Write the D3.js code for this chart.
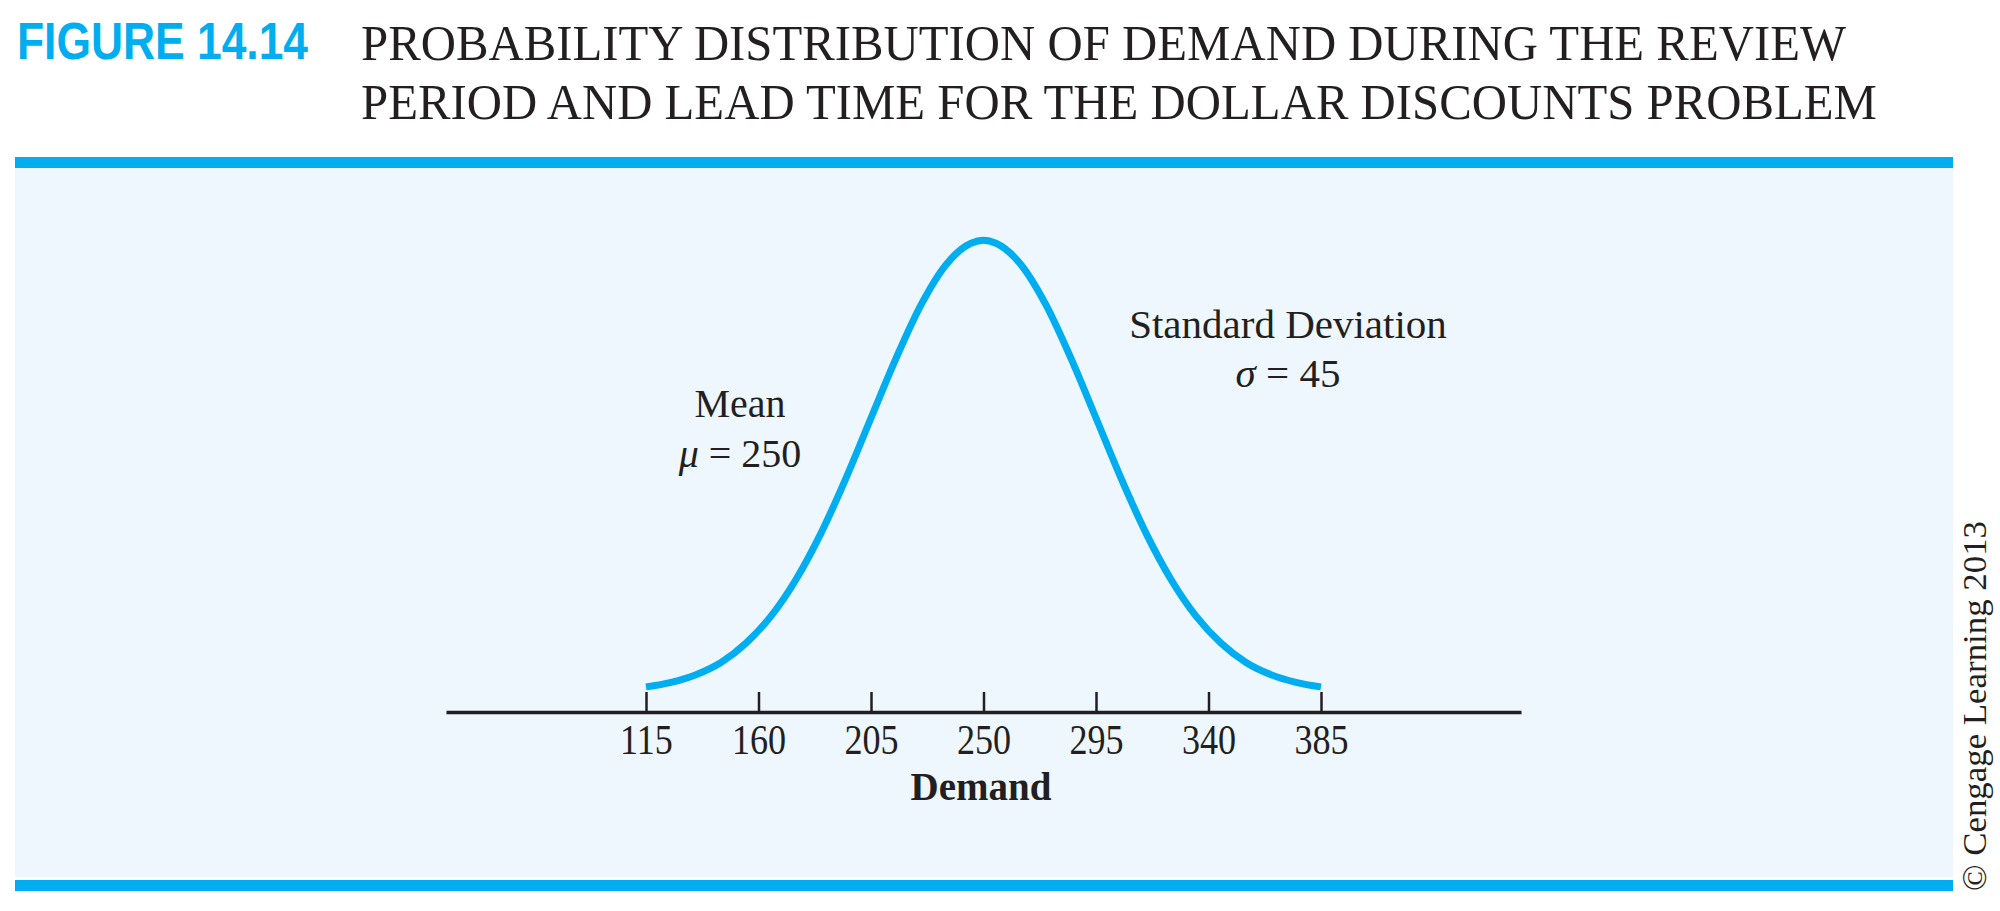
<!DOCTYPE html>
<html>
<head>
<meta charset="utf-8">
<script src="https://cdn.jsdelivr.net/npm/d3@7"></script>
<style>
  html, body { margin: 0; padding: 0; background: #ffffff; }
  svg { display: block; }
</style>
</head>
<body>
<script>
// ---------- data ----------
const demand = [115,125,135,145,155,165,175,185,195,205,215,225,235,245,250,255,265,275,285,295,305,315,325,335,345,355,365,375,385];
// probability density (x 0.001)
const density = [0.10,0.19,0.34,0.58,0.96,1.49,2.21,3.12,4.20,5.38,6.55,7.60,8.39,8.81,8.87,8.81,8.39,7.60,6.55,5.38,4.20,3.12,2.21,1.49,0.96,0.58,0.34,0.19,0.10];
const tickValues = [115,160,205,250,295,340,385];
const figureLabel = "FIGURE 14.14";
const titleLines = ["PROBABILITY DISTRIBUTION OF DEMAND DURING THE REVIEW",
                    "PERIOD AND LEAD TIME FOR THE DOLLAR DISCOUNTS PROBLEM"];
const meanLines = ["Mean", "250"];
const sdLines = ["Standard Deviation", "45"];
const xTitle = "Demand";
const credit = "\u00A9 Cengage Learning 2013";

// ---------- layout ----------
const W = 2000, H = 911;
const blue = "#00AEEF", ink = "#231F20", panel = "#EEF7FD";
const serif = "'Liberation Serif','Times New Roman',serif";
const sans = "'Liberation Sans',Arial,sans-serif";

const svg = d3.select("body").append("svg").attr("width", W).attr("height", H);

// frame
svg.append("rect").attr("x",15).attr("y",157).attr("width",1938).attr("height",11).attr("fill",blue);
svg.append("rect").attr("x",15).attr("y",168).attr("width",1938).attr("height",709).attr("fill",panel);
svg.append("rect").attr("x",15).attr("y",880).attr("width",1938).attr("height",11).attr("fill",blue);

// title
svg.append("text").attr("x",17).attr("y",59)
  .attr("font-family",sans).attr("font-weight","bold").attr("font-size",51)
  .attr("fill",blue).attr("textLength",291).attr("lengthAdjust","spacingAndGlyphs")
  .text(figureLabel);
const titleLen = [1485, 1516];
titleLines.forEach((t,i)=>{
  svg.append("text").attr("x",361).attr("y",60+59*i)
    .attr("font-family",serif).attr("font-size",51).attr("fill",ink)
    .attr("textLength",titleLen[i]).attr("lengthAdjust","spacingAndGlyphs")
    .text(t);
});

// scales
const x = d3.scaleLinear().domain([35,465]).range([446,1521]);
const y = d3.scaleLinear().domain([0,8.865]).range([692,240.5]);

// curve
const pts = demand.map((d,i)=>[d, density[i]]);
svg.append("path").datum(pts)
  .attr("fill","none").attr("stroke",blue).attr("stroke-width",7)
  .attr("d", d3.line().x(d=>x(d[0])).y(d=>y(d[1])).curve(d3.curveMonotoneX));

// axis
const gx = svg.append("g").attr("transform","translate(0,712)")
  .call(d3.axisBottom(x).tickValues(tickValues).tickSizeInner(-20).tickSizeOuter(0).tickPadding(12));
gx.select(".domain").attr("stroke",ink).attr("stroke-width",3.5);
gx.selectAll(".tick line").attr("stroke",ink).attr("stroke-width",2.5);
gx.selectAll(".tick text").attr("font-family",serif).attr("font-size",42).attr("fill",ink)
  .attr("transform","scale(0.86,1)");

// axis title
svg.append("text").attr("x",981).attr("y",800).attr("text-anchor","middle")
  .attr("font-family",serif).attr("font-weight","bold").attr("font-size",39).attr("fill",ink)
  .text(xTitle);

// annotations
const mean = svg.append("g").attr("font-family",serif).attr("font-size",40).attr("fill",ink).attr("text-anchor","middle");
mean.append("text").attr("x",740).attr("y",417).text(meanLines[0]);
const m2 = mean.append("text").attr("x",740).attr("y",467);
m2.append("tspan").attr("font-style","italic").text("\u03BC");
m2.append("tspan").text(" = " + meanLines[1]);

const sd = svg.append("g").attr("font-family",serif).attr("font-size",41).attr("fill",ink).attr("text-anchor","middle");
sd.append("text").attr("x",1288).attr("y",338).text(sdLines[0]);
const s2 = sd.append("text").attr("x",1288).attr("y",387);
s2.append("tspan").attr("font-style","italic").text("\u03C3");
s2.append("tspan").text(" = " + sdLines[1]);

// credit
svg.append("text").attr("transform","translate(1986,706) rotate(-90)")
  .attr("text-anchor","middle").attr("font-family",serif).attr("font-size",33).attr("fill",ink)
  .attr("textLength",370).attr("lengthAdjust","spacingAndGlyphs")
  .text(credit);
</script>
</body>
</html>
